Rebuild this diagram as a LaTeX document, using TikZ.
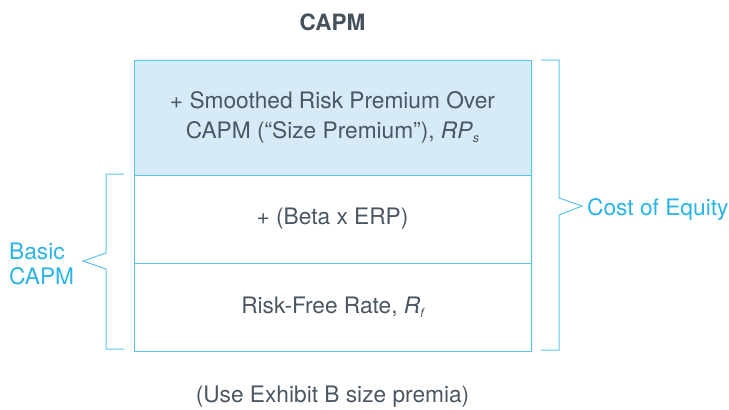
\documentclass[tikz,border=0pt]{standalone}
\usepackage{fontspec}
\setmainfont{TeX Gyre Heros}
\definecolor{txtgray}{HTML}{4A5763}
\definecolor{titlegray}{HTML}{44525E}
\definecolor{cyanline}{HTML}{5CC3EC}
\definecolor{cyantext}{HTML}{2AB4E6}
\definecolor{boxfill}{HTML}{D6EAF7}
\newcommand{\subit}[1]{\raisebox{-0.35ex}{\fontsize{12.5}{12.5}\selectfont\itshape #1}}
\begin{document}
\begin{tikzpicture}[x=1pt,y=-1pt,
  layerbox/.style={draw=cyanline, line width=1pt, minimum width=397pt, inner sep=0pt,
    text=txtgray, font=\fontsize{22.7}{30.5}\selectfont, align=center},
  bracketline/.style={draw=cyanline, line width=1pt},
  sidelabel/.style={text=cyantext, font=\fontsize{22.7}{25}\selectfont, inner sep=0pt}]
\useasboundingbox (0,0) rectangle (729,410);
\node[layerbox, fill=boxfill, minimum height=115pt] (rp) at (332.5,117.5)
  {+ Smoothed Risk Premium Over\\CAPM (“Size Premium”), \textit{RP}\subit{s}};
\node[layerbox, minimum height=88pt] (beta) at (332.5,219) {+ (Beta x ERP)};
\node[layerbox, minimum height=88pt] (rf) at (332.5,307) {Risk-Free Rate, \textit{R}\subit{f}};
\node[anchor=base, inner sep=0pt, text=titlegray, font=\fontsize{22.5}{25}\selectfont\bfseries] (title) at (332.5,30) {CAPM};
\node[anchor=base, inner sep=0pt, text=txtgray, font=\fontsize{22.7}{25}\selectfont] (note) at (332.5,402) {(Use Exhibit B size premia)};
% left bracket
\coordinate (lt) at (124,174);
\coordinate (lb) at (124,349);
\draw[bracketline] (lt) -- (106,174) -- (106,253) -- (83,261) -- (106,269) -- (106,349) -- (lb);
\node[sidelabel, anchor=base west, align=left] (basic) at (9,284) {Basic\\CAPM};
% right bracket
\coordinate (rt) at (541,60);
\coordinate (rb) at (541,350);
\draw[bracketline] (rt) -- (559,60) -- (559,198) -- (582,206) -- (559,215) -- (559,350) -- (rb);
\node[sidelabel, anchor=base west] (coe) at (587,215) {Cost of Equity};
\end{tikzpicture}
\end{document}
